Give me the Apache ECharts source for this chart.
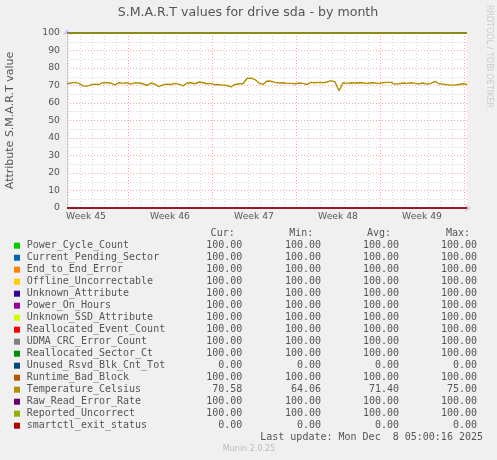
<!DOCTYPE html>
<html>
<head>
<meta charset="utf-8">
<script src="https://cdn.jsdelivr.net/npm/echarts@6/dist/echarts.min.js"></script>
<style>
html,body{margin:0;padding:0;background:#f0f0f0;}
#c{width:497px;height:460px;}
</style>
</head>
<body>
<div id="c"></div>
<script>
// ---- data ----
const seriesNames = ['Power_Cycle_Count','Current_Pending_Sector','End_to_End_Error','Offline_Uncorrectable','Unknown_Attribute','Power_On_Hours','Unknown_SSD_Attribute','Reallocated_Event_Count','UDMA_CRC_Error_Count','Reallocated_Sector_Ct','Unused_Rsvd_Blk_Cnt_Tot','Runtime_Bad_Block','Temperature_Celsius','Raw_Read_Error_Rate','Reported_Uncorrect','smartctl_exit_status'];
const seriesColors = ['#00CC00','#0066B3','#FF8000','#FFCC00','#330099','#990099','#CCFF00','#FF0000','#808080','#008F00','#00487D','#B35A00','#B38F00','#6B006B','#8FB300','#B30000'];
// constant level of each attribute over the month (null = varies, see temperature)
const levels = [100,100,100,100,100,100,100,100,100,100,0,100,null,100,100,0];
const curValues = [100,100,100,100,100,100,100,100,100,100,0,100,70.58,100,100,0];
const minValues = [100,100,100,100,100,100,100,100,100,100,0,100,64.06,100,100,0];
const avgValues = [100,100,100,100,100,100,100,100,100,100,0,100,71.40,100,100,0];
const maxValues = [100,100,100,100,100,100,100,100,100,100,0,100,75.00,100,100,0];
// Temperature_Celsius, one reading every 8 hours
const temperature = [71.0,71.4,71.8,71.2,69.8,69.6,70.4,70.8,70.6,71.6,71.6,71.4,70.4,71.6,71.2,71.6,70.8,71.6,71.4,71.0,
  70.0,71.4,70.8,69.4,70.4,70.8,70.6,71.2,70.8,69.8,71.4,71.6,71.0,72.0,71.6,71.0,71.2,70.4,70.4,70.2,
  70.0,69.2,70.6,71.0,71.0,74.0,74.2,73.4,71.4,70.6,72.6,72.4,71.8,71.4,71.6,71.2,71.2,71.0,71.4,71.2,
  70.6,71.8,71.6,71.8,71.6,72.0,72.8,72.0,67.0,71.6,71.2,71.6,71.4,71.6,71.4,71.2,71.6,71.4,71.2,71.6,
  71.8,71.8,70.8,71.0,71.4,71.2,71.6,71.2,71.0,71.4,70.8,71.2,72.4,71.0,70.8,70.4,70.2,70.2,70.6,71.0,70.6];
// time in days since Monday of week 45 (Nov 3 2025 00:00)
const startDay = 23/12;
const stepDays = 1/3;
const endDay = startDay + (temperature.length - 1) * stepDays;
const dayLines = [2,3,4,5,6,7,8,9,10,11,12,13,14,15,16,17,18,19,20,21,22,23,24,25,26,27,28,29,30,31,32,33,34,35];
const weekLines = [7,14,21,28,35];
const weekMids = [3.5,10.5,17.5,24.5,31.5];
const weekLabels = ['Week 45','Week 46','Week 47','Week 48','Week 49'];
const yTicks = [0,10,20,30,40,50,60,70,80,90,100];
const colHeaders = ['Cur:','Min:','Avg:','Max:'];
const lastUpdate = 'Last update: Mon Dec  8 05:00:16 2025';
const titleText = 'S.M.A.R.T values for drive sda - by month';
const yName = 'Attribute S.M.A.R.T value';

// ---- chart ----
const SANS = 'DejaVu Sans';
const MONO = 'DejaVu Sans Mono';
const chart = echarts.init(document.getElementById('c'), null, {renderer:'canvas'});

const series = seriesNames.map((name, i) => {
  let data;
  if (levels[i] === null) {
    data = temperature.map((v, k) => [startDay + k * stepDays, v]);
  } else {
    data = [[startDay, levels[i]], [endDay, levels[i]]];
  }
  return {
    name, type:'line', xAxisIndex:0, yAxisIndex:0, data,
    showSymbol:false, symbol:'none', clip:false, animation:false,
    lineStyle:{color:seriesColors[i], width: levels[i] === null ? 1.4 : 1.3},
    itemStyle:{color:seriesColors[i]}, z: 3 + i
  };
});

const rowY0 = 245.7, rowH = 12;
const valRight = [242.3, 321, 399, 477];
const hdrRight = [234.7, 313.3, 391, 470];
const graphics = [];
seriesNames.forEach((name, i) => {
  const y = rowY0 + i * rowH;
  graphics.push({type:'rect', shape:{x:14, y:y-3, width:6, height:6}, style:{fill:seriesColors[i]}});
  graphics.push({type:'text', x:26.7, y:y, style:{text:name, font:'10px "'+MONO+'"', fill:'#555', verticalAlign:'middle'}});
  [curValues, minValues, avgValues, maxValues].forEach((arr, j) => {
    graphics.push({type:'text', x:valRight[j], y:y, style:{text:arr[i].toFixed(2), font:'10px "'+MONO+'"', fill:'#555', align:'right', verticalAlign:'middle'}});
  });
});
colHeaders.forEach((h, j) => {
  graphics.push({type:'text', x:hdrRight[j], y:233.3, style:{text:h, font:'10px "'+MONO+'"', fill:'#555', align:'right', verticalAlign:'middle'}});
});
graphics.push({type:'text', x:483, y:437.7, style:{text:lastUpdate, font:'10px "'+MONO+'"', fill:'#555', align:'right', verticalAlign:'middle'}});
graphics.push({type:'text', x:249, y:449, style:{text:'Munin 2.0.25', font:'8px "'+SANS+'"', fill:'#bbb', align:'center', verticalAlign:'middle'}});
graphics.push({type:'text', x:489, y:56.5, rotation:-Math.PI/2, style:{text:'RRDTOOL / TOBI OETIKER', font:'8px "'+SANS+'"', fill:'#ccc', align:'center', verticalAlign:'middle'}});
graphics.push({type:'text', x:248, y:13, style:{text:titleText, font:'12.6px "'+SANS+'"', fill:'#555', align:'center', verticalAlign:'middle'}});

const axisBlue = '#c8c8f4';
const gridGray = '#d4d4d4';
const gridRed = '#eeaaaa';

chart.setOption({
  backgroundColor:'#f0f0f0',
  animation:false,
  grid:{left:67, top:33, width:400, height:175, show:true, backgroundColor:'#ffffff', borderWidth:0, containLabel:false, outerBoundsMode:'none'},
  xAxis:[
    {type:'value', min:startDay, max:endDay, position:'bottom',
     axisLine:{show:true, lineStyle:{color:axisBlue, width:1}, symbol:['none','arrow'], symbolSize:[6,6], symbolOffset:[0,4]},
     axisTick:{show:false, customValues:dayLines},
     axisLabel:{show:false},
     splitLine:{show:true, lineStyle:{color:gridGray, type:[1,2], width:1}}, z:1},
    {type:'value', min:startDay, max:endDay, position:'bottom',
     axisLine:{show:false}, axisTick:{show:false, customValues:weekLines}, axisLabel:{show:false},
     splitLine:{show:true, lineStyle:{color:gridRed, type:[1,2], width:1}}, z:2},
    {type:'value', min:startDay, max:endDay, position:'bottom',
     axisLine:{show:false}, axisTick:{show:false, customValues:weekMids},
     axisLabel:{show:true, customValues:weekMids, margin:4, color:'#555', fontFamily:SANS, fontSize:9.2,
       formatter:(v) => weekLabels[weekMids.indexOf(v)] || ''},
     splitLine:{show:false}}
  ],
  yAxis:[{
    type:'value', min:0, max:100, interval:10,
    name:yName, nameLocation:'middle', nameRotate:90, nameGap:51,
    nameTextStyle:{color:'#555', fontFamily:SANS, fontSize:11},
    axisLine:{show:true, lineStyle:{color:axisBlue, width:1}, symbol:['none','arrow'], symbolSize:[6,6], symbolOffset:[0,4]},
    axisTick:{show:false},
    axisLabel:{color:'#555', fontFamily:SANS, fontSize:9.3, margin:7, formatter:(v) => yTicks.indexOf(v) >= 0 ? String(v) : ''},
    splitLine:{show:true, lineStyle:{color:gridRed, type:[1,2], width:1}},
    minorTick:{show:false, splitNumber:2},
    minorSplitLine:{show:true, lineStyle:{color:gridGray, type:[1,2], width:1}}
  }],
  series,
  graphic:graphics
});
</script>
</body>
</html>
